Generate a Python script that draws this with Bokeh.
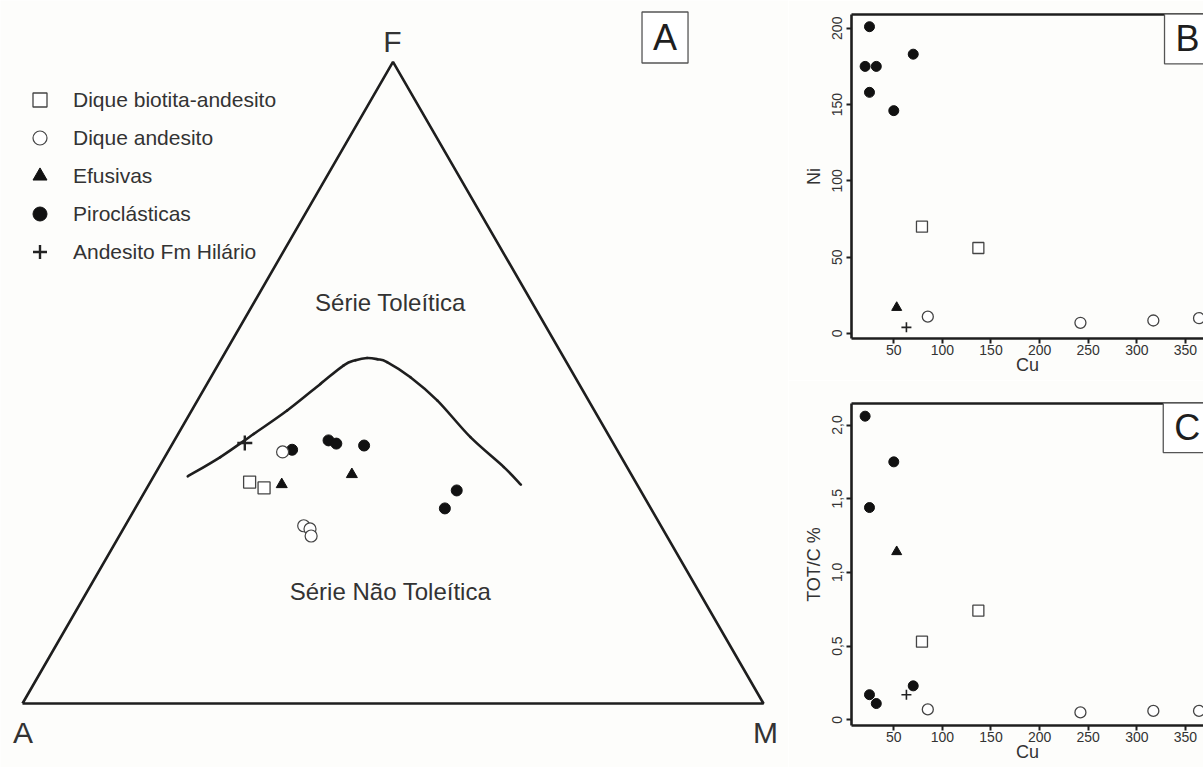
import numpy as np
from bokeh.plotting import figure
from bokeh.models import (Range1d, Label, Legend, LegendItem, FixedTicker, LinearAxis,
                          CustomJSTickFormatter)
from bokeh.layouts import row, column
from bokeh.embed import file_html
from bokeh.resources import INLINE

BG = "#fdfdfb"
INK = "#1e1e1e"
TXT = "#333333"

# ---------------- Panel A: AFM ternary (A, F, M in %) ----------------
tri_A = [100, 0, 0, 100]
tri_F = [0, 100, 0, 0]
tri_M = [0, 0, 100, 0]

curve_A = [60.0, 54.1, 47.8, 41.5, 34.9, 30.3, 28.3, 26.6, 25.3, 24.2, 22.2, 20.4, 18.8, 16.6, 15.7]
curve_F = [35.4, 38.4, 42.0, 45.7, 49.8, 52.7, 53.5, 53.9, 53.7, 53.2, 50.8, 47.2, 41.5, 36.8, 34.1]
curve_M = [4.6, 7.5, 10.2, 12.9, 15.3, 17.0, 18.2, 19.6, 21.1, 22.6, 26.9, 32.4, 39.7, 46.5, 50.2]

biot_A = [52.1, 50.6]
biot_F = [34.5, 33.6]
biot_M = [13.4, 15.8]

andes_A = [45.3, 48.2, 47.6, 48.0]
andes_F = [39.2, 27.7, 27.2, 26.1]
andes_M = [15.5, 24.1, 25.2, 25.9]

efus_A = [37.7, 47.9]
efus_F = [35.7, 34.1]
efus_M = [26.6, 17.9]

piro_A = [43.8, 38.2, 37.4, 33.8, 24.8, 27.8]
piro_F = [39.5, 41.0, 40.5, 40.2, 33.2, 30.4]
piro_M = [16.6, 20.8, 22.1, 26.0, 42.0, 41.8]

hil_A = [49.7]
hil_F = [40.6]
hil_M = [9.7]

# ---------------- Panels B and C: Cu vs Ni and TOT/C ----------------
piro_cu = [20.5, 25, 25, 32, 50, 70]
piro_ni = [175, 201, 158, 175, 146, 183]
piro_c = [2.06, 1.44, 0.17, 0.11, 1.75, 0.23]

biot_cu = [79, 137]
biot_ni = [70, 56]
biot_c = [0.53, 0.74]

andes_cu = [85, 242, 317, 364]
andes_ni = [11, 7, 8.5, 10]
andes_c = [0.07, 0.05, 0.06, 0.06]

efus_cu = [53]
efus_ni = [17]
efus_c = [1.14]

hil_cu = [63]
hil_ni = [4]
hil_c = [0.17]

cu_ticks = [50, 100, 150, 200, 250, 300, 350]
ni_ticks = [0, 50, 100, 150, 200]
c_ticks = [0, 0.5, 1.0, 1.5, 2.0]

legend_labels = ["Dique biotita-andesito", "Dique andesito", "Efusivas",
                 "Piroclásticas", "Andesito Fm Hilário"]


def tern(a, f, m):
    a = np.asarray(a, float); f = np.asarray(f, float); m = np.asarray(m, float)
    s = a + f + m
    x = (m + f / 2.0) / s
    y = (f / s) * np.sqrt(3) / 2.0
    return x, y


pa = figure(width=788, height=767, x_range=Range1d(-0.02969, 1.03374),
            y_range=Range1d(-0.08637, 0.94872), output_backend="svg",
            toolbar_location=None, min_border=0, x_axis_type=None, y_axis_type=None,
            background_fill_color=BG, border_fill_color=BG, outline_line_color=None)
pa.grid.visible = False

tx, ty = tern(tri_A, tri_F, tri_M)
pa.line(tx, ty, line_color=INK, line_width=2.6)

# smooth boundary curve through the read points (Catmull-Rom as cubic Beziers)
cx, cy = tern(curve_A, curve_F, curve_M)
px = np.concatenate([[cx[0]], cx, [cx[-1]]])
py = np.concatenate([[cy[0]], cy, [cy[-1]]])
n = len(cx)
x0 = px[1:n]; y0 = py[1:n]; x1 = px[2:n + 1]; y1 = py[2:n + 1]
c0x = px[1:n] + (px[2:n + 1] - px[0:n - 1]) / 6.0
c0y = py[1:n] + (py[2:n + 1] - py[0:n - 1]) / 6.0
c1x = px[2:n + 1] - (px[3:n + 2] - px[1:n]) / 6.0
c1y = py[2:n + 1] - (py[3:n + 2] - py[1:n]) / 6.0
pa.bezier(x0=x0, y0=y0, x1=x1, y1=y1, cx0=c0x, cy0=c0y, cx1=c1x, cy1=c1y,
          line_color=INK, line_width=2.6, line_cap="round")

x, y = tern(piro_A, piro_F, piro_M)
r_piro = pa.scatter(x, y, marker="circle", size=11, fill_color="#111111", line_color="#111111")
x, y = tern(efus_A, efus_F, efus_M)
r_efus = pa.scatter(x, y, marker="triangle", size=11, fill_color="#111111", line_color="#111111")
x, y = tern(biot_A, biot_F, biot_M)
r_biot = pa.scatter(x, y, marker="square", size=12, fill_color="white", line_color="#444444",
                    line_width=1.3)
x, y = tern(andes_A, andes_F, andes_M)
r_andes = pa.scatter(x, y, marker="circle", size=12, fill_color="white", line_color="#444444",
                     line_width=1.2)
x, y = tern(hil_A, hil_F, hil_M)
r_hil = pa.scatter(x, y, marker="cross", size=15, line_color="#222222", line_width=2.4)

legend = Legend(items=[LegendItem(label=legend_labels[0], renderers=[r_biot]),
                       LegendItem(label=legend_labels[1], renderers=[r_andes]),
                       LegendItem(label=legend_labels[2], renderers=[r_efus]),
                       LegendItem(label=legend_labels[3], renderers=[r_piro]),
                       LegendItem(label=legend_labels[4], renderers=[r_hil])],
                location=(22, 498), glyph_width=35, glyph_height=35, spacing=3,
                padding=0, margin=0, border_line_color=None, background_fill_alpha=0,
                label_text_font="Liberation Sans", label_text_font_size="21px",
                label_text_color=TXT, label_standoff=16)
pa.add_layout(legend)

for txt, lx, ly, fs in [("F", 0.4993, 0.8934, "30px"), ("A", 0.0007, -0.0385, "30px"),
                        ("M", 1.0027, -0.0385, "30px"),
                        ("Série Toleítica", 0.4966, 0.5412, "24px"),
                        ("Série Não Toleítica", 0.4966, 0.1511, "24px")]:
    pa.add_layout(Label(x=lx, y=ly, text=txt, text_align="center", text_baseline="middle",
                        text_font="Liberation Sans", text_font_size=fs, text_color=TXT))

pa.add_layout(Label(x=0.8671, y=0.8988, text="A", text_align="center", text_baseline="middle",
                    text_font="Liberation Sans", text_font_size="36px", text_color=INK,
                    border_line_color="#555555", border_line_width=1.3,
                    background_fill_color="white",
                    padding=dict(left=11, right=11, top=5, bottom=5)))


def panel(height, yr, yticks, ylabel, top, bottom, letter, lpos, yvals, fmt=None):
    p = figure(width=415, height=height, x_range=Range1d(6.5, 368.6), y_range=Range1d(*yr),
               output_backend="svg", toolbar_location=None, min_border_left=63,
               min_border_right=0, min_border_top=top, min_border_bottom=bottom,
               background_fill_color=BG, border_fill_color=BG, outline_line_color=None)
    p.grid.visible = False
    for ax in p.axis:
        ax.axis_line_width = 2.6
        ax.axis_line_color = INK
        ax.major_tick_line_width = 2
        ax.major_tick_line_color = INK
        ax.major_tick_out = 5
        ax.major_tick_in = 0
        ax.minor_tick_line_color = None
        ax.major_label_text_font = "Liberation Sans"
        ax.major_label_text_font_size = "14px"
        ax.major_label_text_color = TXT
        ax.axis_label_text_font = "Liberation Sans"
        ax.axis_label_text_font_size = "18px"
        ax.axis_label_text_font_style = "normal"
        ax.axis_label_text_color = TXT
    p.xaxis.ticker = FixedTicker(ticks=cu_ticks)
    p.xaxis.major_label_standoff = 1
    p.xaxis.axis_label = "Cu"
    p.xaxis.axis_label_standoff = -3
    p.yaxis.ticker = FixedTicker(ticks=yticks)
    p.yaxis.major_label_orientation = "vertical"
    p.yaxis.major_label_standoff = 4
    p.yaxis.axis_label = ylabel
    p.yaxis.axis_label_standoff = 6
    if fmt is not None:
        p.yaxis.formatter = fmt
    top_ax = LinearAxis(ticker=FixedTicker(ticks=[]), axis_line_width=2.6, axis_line_color=INK,
                        major_tick_line_color=None, minor_tick_line_color=None,
                        major_label_text_font_size="0px")
    p.add_layout(top_ax, "above")

    yp, yb, ya, ye, yh = yvals
    p.scatter(piro_cu, yp, marker="circle", size=10, fill_color="#111111", line_color="#111111")
    p.scatter(efus_cu, ye, marker="triangle", size=10, fill_color="#111111", line_color="#111111")
    p.scatter(biot_cu, yb, marker="square", size=11, fill_color="white", line_color="#444444",
              line_width=1.3)
    p.scatter(andes_cu, ya, marker="circle", size=11, fill_color="white", line_color="#444444",
              line_width=1.3)
    p.scatter(hil_cu, yh, marker="cross", size=10, line_color="#222222", line_width=1.6)

    p.add_layout(Label(x=lpos[0], y=lpos[1], text=letter, text_align="left",
                       text_baseline="middle", text_font="Liberation Sans",
                       text_font_size="36px", text_color=INK,
                       border_line_color="#555555", border_line_width=1.3,
                       background_fill_color="white",
                       padding=dict(left=11, right=11, top=5, bottom=5)))
    return p


pb = panel(380, (-3.3, 209), ni_ticks, "Ni", 14, 42, "B", (328.5, 193.4),
           (piro_ni, biot_ni, andes_ni, efus_ni, hil_ni))
fmt_c = CustomJSTickFormatter(code="return tick == 0 ? '0' : tick.toFixed(1).replace('.', ',');")
pc = panel(387, (-0.039, 2.146), c_ticks, "TOT/C %", 23, 42, "C", (327.2, 1.986),
           (piro_c, biot_c, andes_c, efus_c, hil_c), fmt=fmt_c)

layout = row(pa, column(pb, pc))
open("out.html", "w").write(file_html(layout, INLINE))
